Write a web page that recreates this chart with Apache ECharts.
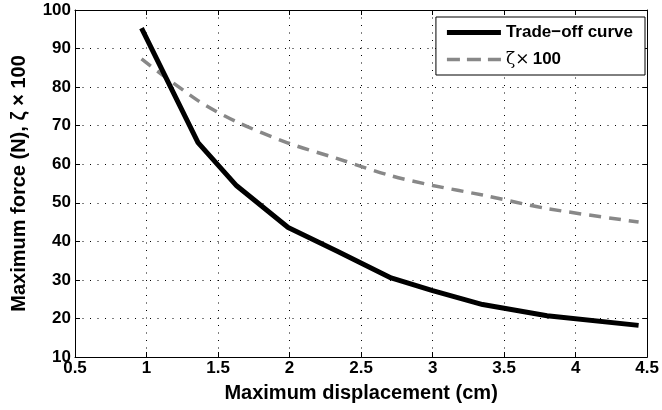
<!DOCTYPE html>
<html>
<head>
<meta charset="utf-8">
<script src="https://cdn.jsdelivr.net/npm/echarts@6/dist/echarts.min.js"></script>
<style>
  html, body { margin: 0; padding: 0; background: #fff; }
  #chart { width: 662px; height: 410px; }
</style>
</head>
<body>
<div id="chart"></div>
<script>
// values
var displacement = [0.965, 1.36, 1.63, 1.99, 2.33, 2.71, 3.0, 3.35, 3.8, 4.44];
var maxForce = [95.3, 65.6, 54.4, 43.6, 37.5, 30.5, 27.2, 23.6, 20.7, 18.2];
var zeta100 = [87.3, 76.5, 71.0, 65.5, 61.5, 57.0, 54.5, 52.0, 48.5, 45.0];
var xTicks = [0.5, 1, 1.5, 2, 2.5, 3, 3.5, 4, 4.5];
var yTicks = [10, 20, 30, 40, 50, 60, 70, 80, 90, 100];

var font = "Liberation Sans";

function pairs(xs, ys) {
    return xs.map(function (x, i) { return [x, ys[i]]; });
}

// legend samples: a thick bar and three dashes, padded to a 54x14 box
var solidIcon = "path://M0,0h0.01v0.01h-0.01zM0,4.5h54v5h-54zM0,13.99h0.01v0.01h-0.01z";
var dashIcon = "path://M0,0h0.01v0.01h-0.01zM0,5.2h13v3.6h-13zM20,5.2h14v3.6h-14zM41,5.2h13v3.6h-13zM0,13.99h0.01v0.01h-0.01z";

var gridLine = { show: true, lineStyle: { color: "#000", width: 1, type: [1, 6.5] } };
var inTick = { show: true, inside: true, length: 5, lineStyle: { color: "#000", width: 1 } };

var chart = echarts.init(document.getElementById("chart"));
chart.setOption({
    animation: false,
    backgroundColor: "#fff",
    textStyle: { fontFamily: font },
    grid: { left: 75, right: 13, top: 10, bottom: 53 },
    legend: {
        orient: "vertical",
        right: 17,
        top: 17,
        itemWidth: 54,
        itemHeight: 14,
        itemGap: 10,
        padding: [7, 12, 7, 11],
        borderColor: "#000",
        borderWidth: 1,
        backgroundColor: "#fff",
        borderRadius: 0,
        data: [
            { name: "Trade−off curve", icon: solidIcon },
            { name: "zeta", icon: dashIcon }
        ],
        formatter: function (name) {
            if (name === "zeta") return "{n|ζ×} {b|100}";
            return "{b|" + name + "}";
        },
        textStyle: {
            fontFamily: font,
            color: "#000",
            rich: {
                b: { fontFamily: font, fontSize: 17, fontWeight: "bold", color: "#000" },
                n: { fontFamily: "DejaVu Serif", fontSize: 17, fontWeight: "normal", color: "#000" }
            }
        }
    },
    xAxis: [{
        type: "value",
        min: 0.5,
        max: 4.5,
        interval: 0.5,
        name: "Maximum displacement (cm)",
        nameLocation: "middle",
        nameGap: 26,
        nameTextStyle: { fontFamily: font, fontSize: 20, fontWeight: "bold", color: "#000" },
        axisLine: { show: true, lineStyle: { color: "#000", width: 1 } },
        axisTick: inTick,
        axisLabel: {
            fontFamily: font, fontSize: 17, fontWeight: "bold", color: "#000", margin: 3,
            formatter: function (v) { return xTicks.indexOf(v) >= 0 ? String(v) : ""; }
        },
        splitLine: gridLine
    }, {
        type: "value",
        position: "top",
        min: 0.5,
        max: 4.5,
        interval: 0.5,
        axisLine: { show: true, lineStyle: { color: "#000", width: 1 } },
        axisTick: inTick,
        axisLabel: { show: false },
        splitLine: { show: false }
    }],
    yAxis: [{
        type: "value",
        min: 10,
        max: 100,
        interval: 10,
        name: "Maximum force (N), ζ × 100",
        nameLocation: "middle",
        nameGap: 46,
        nameTextStyle: { fontFamily: font, fontSize: 20, fontWeight: "bold", color: "#000" },
        axisLine: { show: true, lineStyle: { color: "#000", width: 1 } },
        axisTick: inTick,
        axisLabel: {
            fontFamily: font, fontSize: 17, fontWeight: "bold", color: "#000", margin: 4,
            formatter: function (v) { return yTicks.indexOf(v) >= 0 ? String(v) : ""; }
        },
        splitLine: gridLine
    }, {
        type: "value",
        position: "right",
        min: 10,
        max: 100,
        interval: 10,
        axisLine: { show: true, lineStyle: { color: "#000", width: 1 } },
        axisTick: inTick,
        axisLabel: { show: false },
        splitLine: { show: false }
    }],
    series: [{
        name: "Trade−off curve",
        type: "line",
        xAxisIndex: 0,
        yAxisIndex: 0,
        data: pairs(displacement, maxForce),
        symbol: "none",
        lineStyle: { color: "#000", width: 5 },
        itemStyle: { color: "#000" },
        z: 3
    }, {
        name: "zeta",
        type: "line",
        xAxisIndex: 0,
        yAxisIndex: 0,
        data: pairs(displacement, zeta100),
        symbol: "none",
        smooth: 0.3,
        lineStyle: { color: "#888", width: 3.5, type: [12, 8] },
        itemStyle: { color: "#888" },
        z: 2
    }]
});
</script>
</body>
</html>
